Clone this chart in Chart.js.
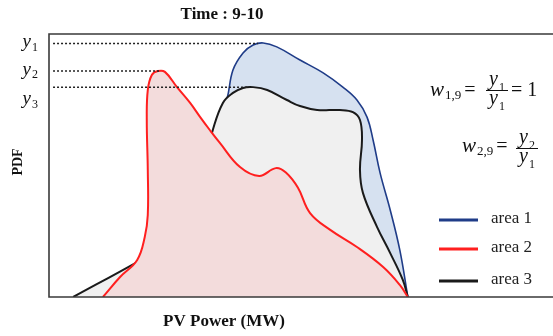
<!DOCTYPE html>
<html>
<head>
<meta charset="utf-8">
<script src="https://cdn.jsdelivr.net/npm/chart.js@4.4.1/dist/chart.umd.min.js"></script>
<style>
  html, body { margin: 0; padding: 0; background: #fff; }
  #wrap { width: 553px; height: 336px; position: relative; }
</style>
</head>
<body>
<div id="wrap"><canvas id="pdfChart"></canvas></div>
<script>
// PDF of PV power, time slot 9-10 (arbitrary units 0-100)

const area1X = [33.5, 34.5, 35.3, 36.5, 38.5, 40.5, 42.5, 45.2, 49.8, 54.4, 58.3, 61.1, 63.1, 64.3, 65.7, 67.7, 69.6, 71.2];
const area1Y = [68.0, 73.4, 75.3, 86.3, 92.8, 95.8, 96.6, 95.1, 90.1, 85.2, 79.8, 74.9, 68.4, 59.7, 47.1, 33.1, 17.9, 0];

const area2X = [10.7, 14.1, 17.5, 19.0, 19.6, 19.6, 19.4, 19.6, 20.4, 21.6, 23.0, 25.4, 28.0, 30.0, 31.9, 33.9, 37.9, 41.7, 45.0, 47.0, 49.4, 51.8, 55.8, 61.1, 66.3, 69.6, 71.2];
const area2Y = [0, 7.6, 14.1, 22.8, 31.2, 48.3, 67.3, 78.7, 84.4, 85.9, 85.6, 79.8, 73.8, 68.4, 63.5, 58.6, 49.4, 46.0, 49.0, 47.3, 41.5, 31.9, 25.5, 19.0, 11.4, 4.6, 0];

const area3X = [4.8, 17.5, 23.0, 28.0, 31.0, 32.5, 34.5, 36.5, 38.5, 40.5, 43.3, 47.2, 49.8, 53.2, 57.7, 60.3, 61.7, 62.1, 61.7, 62.3, 65.1, 67.7, 70.2, 71.2];
const area3Y = [0, 13.3, 19.4, 36.9, 52.1, 63.5, 73.8, 77.6, 79.5, 79.8, 78.7, 74.9, 72.6, 71.1, 71.1, 70.3, 67.3, 59.7, 48.3, 39.5, 26.6, 16.7, 6.5, 0];

const seriesNames = ['area 1', 'area 2', 'area 3'];

// dotted reference levels y1, y2, y3
const levelSubs = ['1', '2', '3'];
const levelY = [96.4, 85.9, 79.8];
const levelStartX = [0.8, 0.8, 0.8];
const levelEndX = [41.5, 22.0, 39.9];
const levelLabelY = [95.8, 85.2, 74.1];

const LINE_BLUE = '#1f3c88';
const LINE_RED = '#ff1f1f';
const LINE_BLACK = '#1a1a1a';
const SERIF = '"Liberation Serif", "DejaVu Serif", serif';

function toPoints(xs, ys) {
    return xs.map((x, i) => ({ x: x, y: ys[i] }));
}

// italic symbol with an upright subscript, returns total width
function drawSub(ctx, x, y, main, sub, size, align) {
    ctx.font = `italic ${size}px ${SERIF}`;
    const w1 = ctx.measureText(main).width;
    ctx.font = `${Math.round(size * 0.62)}px ${SERIF}`;
    const w2 = ctx.measureText(sub).width;
    let left = x;
    if (align === 'right') left = x - w1 - w2 - 1;
    if (align === 'center') left = x - (w1 + w2 + 1) / 2;
    ctx.font = `italic ${size}px ${SERIF}`;
    ctx.fillText(main, left, y);
    ctx.font = `${Math.round(size * 0.62)}px ${SERIF}`;
    ctx.fillText(sub, left + w1 + 1, y + size * 0.28);
    return w1 + w2 + 1;
}

function drawFrac(ctx, cx, cy, top, bottom, size) {
    ctx.save();
    ctx.textBaseline = 'alphabetic';
    drawSub(ctx, cx, cy - 5, top[0], top[1], size, 'center');
    drawSub(ctx, cx, cy + size * 0.72, bottom[0], bottom[1], size, 'center');
    ctx.strokeStyle = '#111';
    ctx.lineWidth = 1;
    ctx.beginPath();
    ctx.moveTo(cx - 11, cy + 0.5);
    ctx.lineTo(cx + 11, cy + 0.5);
    ctx.stroke();
    ctx.restore();
}

const annotations = {
    id: 'annotations',
    afterDraw(chart) {
        const { ctx, chartArea } = chart;
        const yScale = chart.scales.y;
        ctx.save();

        // frame: top, left, bottom
        ctx.strokeStyle = '#3a3a3a';
        ctx.lineWidth = 1.6;
        ctx.beginPath();
        ctx.moveTo(chartArea.right + 2, chartArea.top);
        ctx.lineTo(chartArea.left, chartArea.top);
        ctx.lineTo(chartArea.left, chartArea.bottom);
        ctx.lineTo(chartArea.right + 2, chartArea.bottom);
        ctx.stroke();

        ctx.fillStyle = '#111';
        // title and axis titles
        ctx.textAlign = 'center';
        ctx.textBaseline = 'middle';
        ctx.font = `bold 17px ${SERIF}`;
        ctx.fillText('Time : 9-10', 222, 15);
        ctx.fillText('PV Power (MW)', 224, 322);
        ctx.save();
        ctx.translate(18, 162);
        ctx.rotate(-Math.PI / 2);
        ctx.font = `bold 14px ${SERIF}`;
        ctx.fillText('PDF', 0, 0);
        ctx.restore();

        // y1, y2, y3 labels
        ctx.textAlign = 'left';
        ctx.textBaseline = 'middle';
        levelSubs.forEach((s, i) => {
            drawSub(ctx, 38, yScale.getPixelForValue(levelLabelY[i]) - 3, 'y', s, 19, 'right');
        });

        // weight formulas
        ctx.textBaseline = 'middle';
        let x = 430;
        x += drawSub(ctx, x, 90, 'w', '1,9', 21, 'left');
        ctx.font = `20px ${SERIF}`;
        ctx.fillText('=', x + 3, 91);
        drawFrac(ctx, 497, 90, ['y', '1'], ['y', '1'], 20);
        ctx.font = `20px ${SERIF}`;
        ctx.fillText('= 1', 511, 91);

        x = 462;
        x += drawSub(ctx, x, 146, 'w', '2,9', 21, 'left');
        ctx.font = `20px ${SERIF}`;
        ctx.fillText('=', x + 3, 147);
        drawFrac(ctx, 527, 148, ['y', '2'], ['y', '1'], 20);

        // legend
        const colors = [LINE_BLUE, LINE_RED, LINE_BLACK];
        const rows = [220, 249, 281];
        ctx.lineWidth = 3;
        ctx.font = `17px ${SERIF}`;
        ctx.textBaseline = 'middle';
        seriesNames.forEach((name, i) => {
            ctx.strokeStyle = colors[i];
            ctx.beginPath();
            ctx.moveTo(439, rows[i]);
            ctx.lineTo(478, rows[i]);
            ctx.stroke();
            ctx.fillStyle = '#222';
            ctx.fillText(name, 491, rows[i] - 1);
        });
        ctx.restore();
    }
};

const levelSets = levelY.map((v, i) => ({
    data: [{ x: levelStartX[i], y: v }, { x: levelEndX[i], y: v }],
    showLine: true,
    borderColor: '#222',
    borderWidth: 1.5,
    borderDash: [2, 2],
    pointRadius: 0,
    fill: false,
    tension: 0,
    order: -1
}));

new Chart(document.getElementById('pdfChart'), {
    type: 'scatter',
    data: {
        datasets: [
            {
                label: seriesNames[0],
                data: toPoints(area1X, area1Y),
                showLine: true,
                borderColor: LINE_BLUE,
                borderWidth: 1.6,
                backgroundColor: '#d6e1f0',
                fill: 'origin',
                pointRadius: 0,
                tension: 0.4,
                order: 3
            },
            {
                label: seriesNames[1],
                data: toPoints(area2X, area2Y),
                showLine: true,
                borderColor: LINE_RED,
                borderWidth: 2,
                backgroundColor: '#f3dcdc',
                fill: 'origin',
                pointRadius: 0,
                tension: 0.4,
                order: 1
            },
            {
                label: seriesNames[2],
                data: toPoints(area3X, area3Y),
                showLine: true,
                borderColor: LINE_BLACK,
                borderWidth: 2,
                backgroundColor: '#f0f0f0',
                fill: 'origin',
                pointRadius: 0,
                tension: 0.4,
                order: 2
            },
            ...levelSets
        ]
    },
    options: {
        responsive: true,
        maintainAspectRatio: false,
        animation: false,
        layout: { padding: { left: 49, top: 34, right: 0, bottom: 39 } },
        scales: {
            x: { type: 'linear', min: 0, max: 100, display: false },
            y: { type: 'linear', min: 0, max: 100, display: false }
        },
        plugins: {
            legend: { display: false },
            tooltip: { enabled: false }
        }
    },
    plugins: [annotations]
});
</script>
</body>
</html>
